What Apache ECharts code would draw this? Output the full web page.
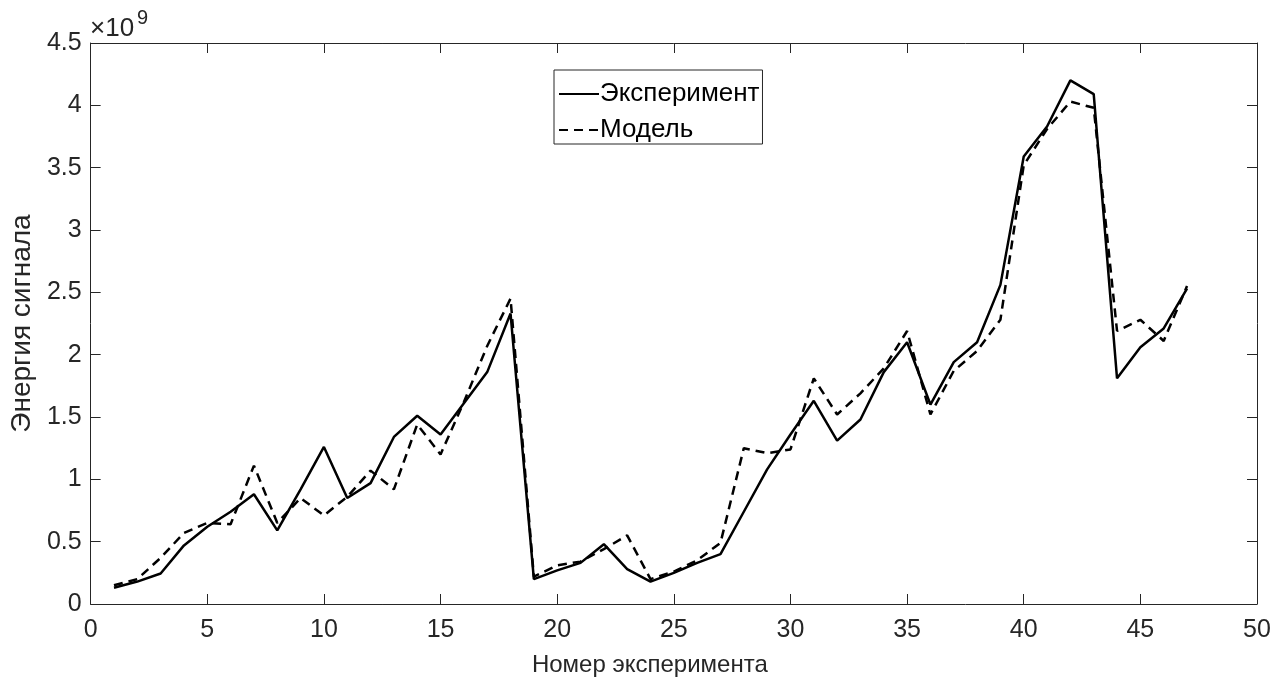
<!DOCTYPE html>
<html lang="ru" style="height: 100%">
<head>
    <meta charset="utf-8">
</head>
<body style="height: 100%; margin: 0; background: #fff">
<div id="container" style="width: 1288px; height: 684px"></div>

<script type="text/javascript" src="https://fastly.jsdelivr.net/npm/echarts@6.0.0/dist/echarts.min.js"></script>

<script type="text/javascript">
    // номера экспериментов
    var experiments = [1, 2, 3, 4, 5, 6, 7, 8, 9, 10, 11, 12, 13, 14, 15, 16, 17, 18, 19, 20,
        21, 22, 23, 24, 25, 26, 27, 28, 29, 30, 31, 32, 33, 34, 35, 36, 37, 38, 39, 40,
        41, 42, 43, 44, 45, 46, 47];

    // энергия сигнала, x10^9
    var experiment = [0.13, 0.18, 0.245, 0.47, 0.62, 0.74, 0.88, 0.59, 0.92, 1.26,
        0.85, 0.97, 1.34, 1.51, 1.36, 1.61, 1.86, 2.33, 0.2, 0.27,
        0.33, 0.48, 0.28, 0.18, 0.25, 0.33, 0.40, 0.74, 1.08, 1.36,
        1.63, 1.31, 1.48, 1.86, 2.1, 1.6, 1.94, 2.1, 2.56, 3.59,
        3.83, 4.2, 4.09, 1.81, 2.06, 2.21, 2.53];

    var model = [0.15, 0.2, 0.37, 0.57, 0.65, 0.64, 1.11, 0.65, 0.85, 0.71,
        0.86, 1.07, 0.92, 1.44, 1.2, 1.62, 2.07, 2.45, 0.22, 0.31,
        0.34, 0.44, 0.55, 0.2, 0.26, 0.35, 0.49, 1.25, 1.21, 1.24,
        1.81, 1.52, 1.69, 1.89, 2.19, 1.52, 1.87, 2.03, 2.28, 3.52,
        3.81, 4.03, 3.98, 2.19, 2.28, 2.11, 2.55];

    var seriesNames = ['Эксперимент', 'Модель'];

    var dom = document.getElementById('container');
    var myChart = echarts.init(dom, null, {renderer: 'canvas'});

    var font = 'Liberation Sans, Arial, sans-serif';
    var axisColor = '#262626';

    function pairs(vals) {
        return experiments.map(function (x, i) { return [x, vals[i]]; });
    }

    // рамка как в MATLAB: оси со всех сторон, риски внутрь
    function axisBase(min, max, step) {
        return {
            type: 'value', min: min, max: max, interval: step,
            axisLine: {show: true, onZero: false, lineStyle: {color: axisColor, width: 1}},
            axisTick: {show: true, inside: true, length: 10, lineStyle: {color: axisColor}},
            splitLine: {show: false}
        };
    }

    var option = {
        animation: false,
        backgroundColor: '#fff',
        textStyle: {fontFamily: font},
        grid: {left: 89, right: 31, top: 43, bottom: 80},
        legend: {
            data: seriesNames,
            orient: 'vertical',
            left: 554, top: 70,
            itemWidth: 40, itemHeight: 14, itemGap: 10,
            padding: [11, 3, 1, 4],
            borderColor: axisColor, borderWidth: 1, borderRadius: 0,
            itemStyle: {opacity: 0},
            textStyle: {fontFamily: font, fontSize: 26, lineHeight: 26, color: '#000', padding: [0, 0, 0, -4]}
        },
        graphic: [
            {
                type: 'text', x: 90, y: 16,
                style: {text: '×10', fontFamily: font, fontSize: 26, fill: axisColor}
            },
            {
                type: 'text', x: 137, y: 8,
                style: {text: '9', fontFamily: font, fontSize: 20, fill: axisColor}
            }
        ],
        xAxis: [
            Object.assign(axisBase(0, 50, 5), {
                position: 'bottom',
                name: 'Номер эксперимента', nameLocation: 'middle', nameGap: 49,
                nameTextStyle: {fontFamily: font, fontSize: 24, color: axisColor, padding: [0, 48, 0, 0]},
                axisLabel: {fontFamily: font, fontSize: 25, color: axisColor, margin: 14}
            }),
            Object.assign(axisBase(0, 50, 5), {position: 'top', axisLabel: {show: false}})
        ],
        yAxis: [
            Object.assign(axisBase(0, 4.5, 0.5), {
                position: 'left',
                name: 'Энергия сигнала', nameLocation: 'middle', nameGap: 46,
                nameTextStyle: {fontFamily: font, fontSize: 28, color: axisColor},
                axisLabel: {fontFamily: font, fontSize: 25, color: axisColor, margin: 9}
            }),
            Object.assign(axisBase(0, 4.5, 0.5), {position: 'right', axisLabel: {show: false}})
        ],
        series: [
            {
                name: seriesNames[0], type: 'line', data: pairs(experiment),
                showSymbol: false, symbol: 'none', color: '#000',
                lineStyle: {color: '#000', width: 2.5, type: 'solid'}
            },
            {
                name: seriesNames[1], type: 'line', data: pairs(model),
                showSymbol: false, symbol: 'none', color: '#000',
                lineStyle: {color: '#000', width: 2.5, type: [9, 6]}
            }
        ]
    };

    myChart.setOption(option);
    window.addEventListener('resize', myChart.resize);
</script>
</body>
</html>
